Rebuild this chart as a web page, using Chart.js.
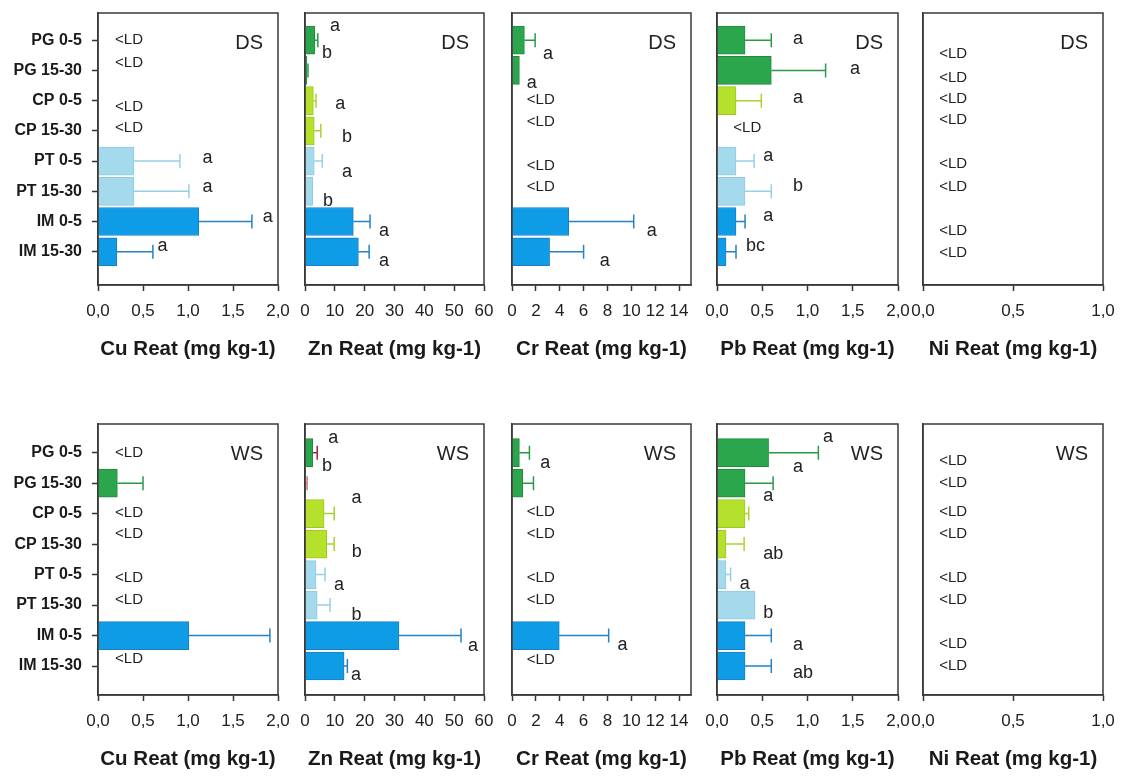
<!DOCTYPE html>
<html>
<head>
<meta charset="utf-8">
<script src="https://cdn.jsdelivr.net/npm/chart.js@4.4.1/dist/chart.umd.min.js"></script>
<style>
  body { margin: 0; background: #fff; width: 1125px; height: 782px; position: relative; overflow: hidden; }
  canvas { position: absolute; }
</style>
</head>
<body>
<script>
const categories = ['PG 0-5', 'PG 15-30', 'CP 0-5', 'CP 15-30', 'PT 0-5', 'PT 15-30', 'IM 0-5', 'IM 15-30']

// dry season (DS) - null means below detection limit
const cuDS = [null, null, null, null, 0.40, 0.40, 1.12, 0.21]
const cuDSErr = [null, null, null, null, 0.91, 1.01, 1.71, 0.61]
const cuDSNotes = ['<LD', '<LD', '<LD', '<LD', 'a', 'a', 'a', 'a']

const znDS = [3.3, 0.6, 2.8, 3.1, 3.1, 2.6, 16.2, 17.9]
const znDSErr = [4.3, 1.0, 3.7, 5.3, 5.8, null, 21.8, 21.5]
const znDSNotes = ['a', 'b', 'a', 'b', 'a', 'b', 'a', 'a']

const crDS = [1.04, 0.62, null, null, null, null, 4.75, 3.15]
const crDSErr = [1.94, null, null, null, null, null, 10.2, 6.0]
const crDSNotes = ['a', 'a', '<LD', '<LD', '<LD', '<LD', 'a', 'a']

const pbDS = [0.31, 0.60, 0.21, null, 0.21, 0.31, 0.21, 0.10]
const pbDSErr = [0.60, 1.20, 0.49, null, 0.41, 0.60, 0.31, 0.21]
const pbDSNotes = ['a', 'a', 'a', '<LD', 'a', 'b', 'a', 'bc']

const niDS = [null, null, null, null, null, null, null, null]
const niDSErr = [null, null, null, null, null, null, null, null]
const niDSNotes = ['<LD', '<LD', '<LD', '<LD', '<LD', '<LD', '<LD', '<LD']

// wet season (WS)
const cuWS = [null, 0.215, null, null, null, null, 1.01, null]
const cuWSErr = [null, 0.50, null, null, null, null, 1.91, null]
const cuWSNotes = ['<LD', '', '<LD', '<LD', '<LD', '<LD', '', '<LD']

const znWS = [2.6, 0.1, 6.4, 7.3, 3.7, 4.1, 31.5, 13.1]
const znWSErr = [4.1, 0.7, 9.8, 9.8, 6.7, 8.4, 52.3, 14.2]
const znWSNotes = ['a', 'b', 'a', 'b', 'a', 'b', 'a', 'a']

const crWS = [0.62, 0.9, null, null, null, null, 3.96, null]
const crWSErr = [1.46, 1.8, null, null, null, null, 8.1, null]
const crWSNotes = ['a', '', '<LD', '<LD', '<LD', '<LD', 'a', '<LD']

const pbWS = [0.57, 0.31, 0.31, 0.10, 0.10, 0.42, 0.31, 0.31]
const pbWSErr = [1.12, 0.62, 0.35, 0.30, 0.15, null, 0.60, 0.60]
const pbWSNotes = ['a', 'a', 'a', 'ab', 'a', 'b', 'a', 'ab']

const niWS = [null, null, null, null, null, null, null, null]
const niWSErr = [null, null, null, null, null, null, null, null]
const niWSNotes = ['<LD', '<LD', '<LD', '<LD', '<LD', '<LD', '<LD', '<LD']

// where the letters sit: x in axis units, dy in px from the category line
const notePlace = {
  cuDS: { x: [0.19, 0.19, 0.19, 0.19, 1.16, 1.16, 1.83, 0.66], dy: [0, -8, 6, -3, -3, -4, -5, -6] },
  znDS: { x: [8.4, 5.7, 10.1, 12.4, 12.4, 6.0, 24.8, 24.8], dy: [-14, -17, 3, 6, 11, 10, 9, 9] },
  crDS: { x: [2.59, 1.24, 1.24, 1.24, 1.24, 1.24, 11.3, 7.36], dy: [14, 13, -1, -9, 5, -4, 9, 9] },
  pbDS: { x: [0.84, 1.47, 0.84, 0.18, 0.51, 0.84, 0.51, 0.32], dy: [-1, -1, -3, -3, -5, -5, -6, -6] },
  niDS: { x: [0.09, 0.09, 0.09, 0.09, 0.09, 0.09, 0.09, 0.09], dy: [14, 7, -2, -11, 3, -4, 9, 1] },
  cuWS: { x: [0.19, 0.19, 0.19, 0.19, 0.19, 0.19, 0.19, 0.19], dy: [0, 0, -1, -10, 3, -5, 0, -7] },
  znWS: { x: [7.8, 5.7, 15.6, 15.7, 9.7, 15.6, 54.6, 15.4], dy: [-15, -17, -16, 8, 10, 10, 10, 9] },
  crWS: { x: [2.36, 0, 1.24, 1.24, 1.24, 1.24, 8.85, 1.24], dy: [10, 0, -2, -10, 3, -5, 9, -6] },
  pbWS: { x: [1.17, 0.84, 0.51, 0.51, 0.25, 0.51, 0.84, 0.84], dy: [-16, -16, -18, 10, 9, 8, 9, 7] },
  niWS: { x: [0.09, 0.09, 0.09, 0.09, 0.09, 0.09, 0.09, 0.09], dy: [8, 0, -2, -10, 3, -5, 8, 0] }
}

const groupFill = ['#2ca64c', '#b5e02c', '#a5d9ec', '#0f9ce6']
const groupEdge = ['#1f8a3c', '#9cc820', '#8ecbe0', '#1a7fc4']
const groupErr = ['#2b9a47', '#a8d232', '#98cfe4', '#2580c6']

const FONT = "'Liberation Sans', Arial, sans-serif"
Chart.defaults.font.family = FONT

const rows = [
  { season: 'DS', top: 13, bottom: 285, yMin: -0.9, yMax: 8.1 },
  { season: 'WS', top: 424, bottom: 695, yMin: -0.94, yMax: 7.95 }
]
const cols = [
  { el: 'Cu', left: 98, right: 278, max: 2, step: 0.5, dec: 1 },
  { el: 'Zn', left: 305, right: 484, max: 60, step: 10, dec: 0 },
  { el: 'Cr', left: 512, right: 691, max: 15, step: 2, dec: 0 },
  { el: 'Pb', left: 717, right: 898, max: 2, step: 0.5, dec: 1 },
  { el: 'Ni', left: 923, right: 1103, max: 1, step: 0.5, dec: 1 }
]

const panels = [
  { key: 'cuDS', row: 0, col: 0, vals: cuDS, err: cuDSErr, notes: cuDSNotes },
  { key: 'znDS', row: 0, col: 1, vals: znDS, err: znDSErr, notes: znDSNotes },
  { key: 'crDS', row: 0, col: 2, vals: crDS, err: crDSErr, notes: crDSNotes },
  { key: 'pbDS', row: 0, col: 3, vals: pbDS, err: pbDSErr, notes: pbDSNotes },
  { key: 'niDS', row: 0, col: 4, vals: niDS, err: niDSErr, notes: niDSNotes },
  { key: 'cuWS', row: 1, col: 0, vals: cuWS, err: cuWSErr, notes: cuWSNotes },
  { key: 'znWS', row: 1, col: 1, vals: znWS, err: znWSErr, notes: znWSNotes, errColors: { 0: '#9c2b36', 1: '#d9707c' } },
  { key: 'crWS', row: 1, col: 2, vals: crWS, err: crWSErr, notes: crWSNotes },
  { key: 'pbWS', row: 1, col: 3, vals: pbWS, err: pbWSErr, notes: pbWSNotes },
  { key: 'niWS', row: 1, col: 4, vals: niWS, err: niWSErr, notes: niWSNotes }
]

function panelPlugin (p, row) {
  return {
    id: 'panelExtras',
    afterDatasetsDraw (chart) {
      const ctx = chart.ctx
      const xs = chart.scales.x
      const ys = chart.scales.y
      const area = chart.chartArea
      const pts = chart.data.datasets[0].data

      // error bars
      chart.getDatasetMeta(0).data.forEach((bar, k) => {
        const pt = pts[k]
        const e = p.err[pt.y]
        if (e === null) return
        const ex = xs.getPixelForValue(e)
        ctx.save()
        ctx.strokeStyle = (p.errColors && p.errColors[pt.y]) || groupErr[Math.floor(pt.y / 2)]
        ctx.lineWidth = 1.5
        ctx.beginPath()
        ctx.moveTo(bar.x, bar.y)
        ctx.lineTo(ex, bar.y)
        ctx.moveTo(ex, bar.y - 7)
        ctx.lineTo(ex, bar.y + 7)
        ctx.stroke()
        ctx.restore()
      })

      // frame
      ctx.save()
      ctx.strokeStyle = '#3a3a3a'
      ctx.lineWidth = 1.5
      ctx.strokeRect(area.left, area.top, area.right - area.left, area.bottom - area.top)

      // letters and <LD
      const place = notePlace[p.key]
      ctx.fillStyle = '#222'
      ctx.textAlign = 'left'
      ctx.textBaseline = 'middle'
      p.notes.forEach((t, i) => {
        if (!t) return
        ctx.font = (t === '<LD' ? '15px ' : '18px ') + FONT
        ctx.fillText(t, xs.getPixelForValue(place.x[i]), ys.getPixelForValue(i) + place.dy[i])
      })

      // season tag
      ctx.font = '20px ' + FONT
      ctx.textAlign = 'right'
      ctx.fillText(row.season, area.right - 15, area.top + 30)
      ctx.restore()
    }
  }
}

panels.forEach(p => {
  const row = rows[p.row]
  const col = cols[p.col]
  const first = p.col === 0
  const lw = first ? col.left : 28
  const padTop = 24
  const padRight = 30
  const axisH = 82

  const canvas = document.createElement('canvas')
  canvas.width = lw + (col.right - col.left) + padRight
  canvas.height = padTop + (row.bottom - row.top) + axisH
  canvas.style.left = (col.left - lw) + 'px'
  canvas.style.top = (row.top - padTop) + 'px'
  document.body.appendChild(canvas)

  const points = []
  p.vals.forEach((v, i) => { if (v !== null) points.push({ x: v, y: i }) })

  new Chart(canvas, {
    type: 'bar',
    data: {
      datasets: [{
        data: points,
        backgroundColor: points.map(pt => groupFill[Math.floor(pt.y / 2)]),
        borderColor: points.map(pt => groupEdge[Math.floor(pt.y / 2)]),
        borderWidth: 1,
        barThickness: 28
      }]
    },
    options: {
      indexAxis: 'y',
      responsive: false,
      animation: false,
      layout: { padding: { top: padTop, right: padRight, left: 0, bottom: 0 } },
      plugins: { legend: { display: false }, tooltip: { enabled: false } },
      scales: {
        x: {
          type: 'linear',
          min: 0,
          max: col.max,
          afterFit: s => { s.height = axisH },
          ticks: {
            stepSize: col.step,
            includeBounds: false,
            padding: 10,
            color: '#222',
            font: { size: 17 },
            callback: v => v.toFixed(col.dec).replace('.', ',')
          },
          grid: { drawOnChartArea: false, tickLength: 6, tickColor: '#333', tickWidth: 1.5 },
          border: { color: '#3a3a3a', width: 1.5 },
          title: {
            display: true,
            text: col.el + ' Reat (mg kg-1)',
            color: '#1a1a1a',
            font: { size: 20.5, weight: 'bold' },
            padding: { top: 0, bottom: 5 }
          }
        },
        y: {
          type: 'linear',
          reverse: true,
          offset: false,
          min: row.yMin,
          max: row.yMax,
          afterFit: s => { s.width = lw },
          afterBuildTicks: s => { s.ticks = categories.map((c, i) => ({ value: i })) },
          ticks: {
            display: first,
            padding: 10,
            color: '#1a1a1a',
            font: { size: 16, weight: 'bold' },
            callback: v => categories[v]
          },
          grid: { display: first, offset: false, drawOnChartArea: false, drawTicks: first, tickLength: 6, tickColor: '#333', tickWidth: 1.5 },
          border: { color: '#3a3a3a', width: 1.5 }
        }
      }
    },
    plugins: [panelPlugin(p, row)]
  })
})
</script>
</body>
</html>
